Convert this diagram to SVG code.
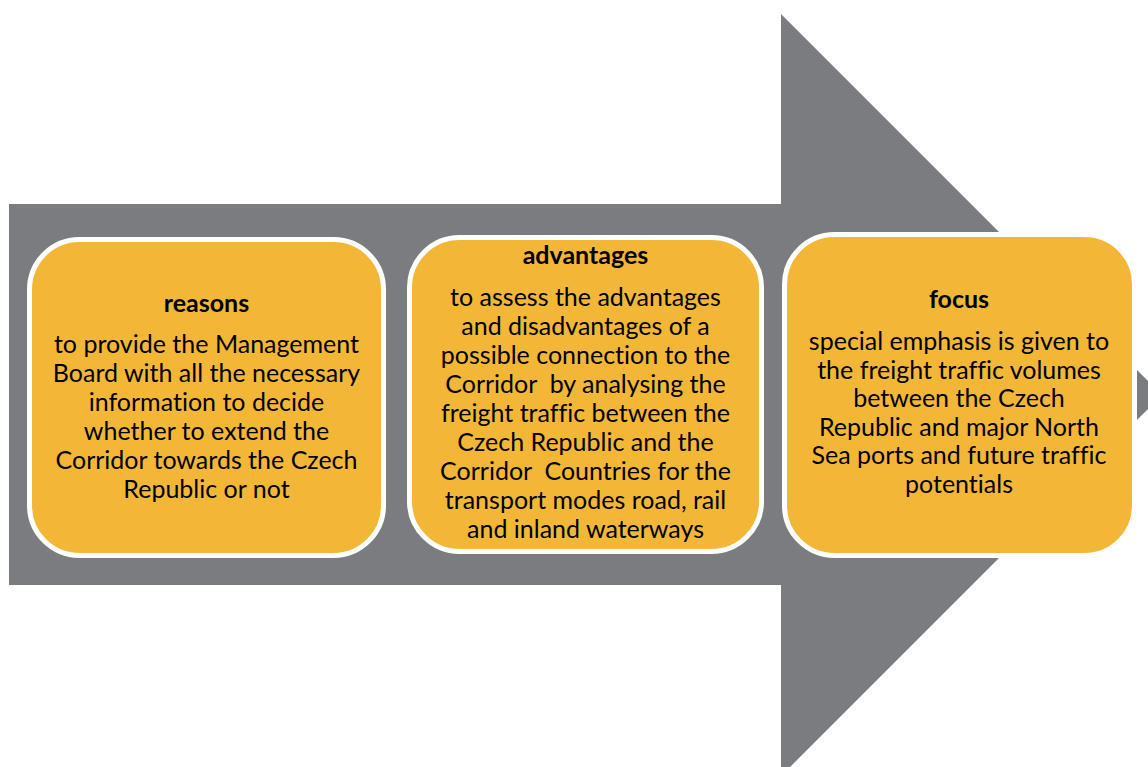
<svg xmlns="http://www.w3.org/2000/svg" width="1148" height="767" viewBox="0 0 1148 767">
<style>
.box{fill:#F3B738;stroke:#FFFFFF;stroke-width:5}
.t{font-family:Lato,"Open Sans","Liberation Sans",sans-serif;font-weight:bold;font-size:25px;fill:#000;text-anchor:middle;font-variant-ligatures:none}
.b{font-family:Lato,"Open Sans","Liberation Sans",sans-serif;font-size:25px;fill:#000;text-anchor:middle;font-variant-ligatures:none}
</style>
<rect width="1148" height="767" fill="#FFFFFF"/>
<g id="connectors">
<polygon id="arrow" points="9,204 781,204 781,14 1162,395 781,776 781,585 9,585" fill="#7B7C80"/>
</g>
<g id="reasons">
<rect class="box" x="29.5" y="239.5" width="354" height="316" rx="50"/>
<text class="t" x="206.5" y="312">reasons</text>
<text class="b" x="206.5" y="353">to provide the Management</text>
<text class="b" x="206.5" y="382">Board with all the necessary</text>
<text class="b" x="206.5" y="411">information to decide</text>
<text class="b" x="206.5" y="440">whether to extend the</text>
<text class="b" x="206.5" y="469">Corridor towards the Czech</text>
<text class="b" x="206.5" y="498">Republic or not</text>
</g>
<g id="advantages">
<rect class="box" x="409.5" y="237.5" width="352" height="314" rx="50"/>
<text class="t" x="585.5" y="264">advantages</text>
<text class="b" x="585.5" y="306">to assess the advantages</text>
<text class="b" x="585.5" y="335">and disadvantages of a</text>
<text class="b" x="585.5" y="364">possible connection to the</text>
<text class="b" x="585.5" y="393" xml:space="preserve">Corridor  by analysing the</text>
<text class="b" x="585.5" y="422">freight traffic between the</text>
<text class="b" x="585.5" y="451">Czech Republic and the</text>
<text class="b" x="585.5" y="480" xml:space="preserve">Corridor  Countries for the</text>
<text class="b" x="585.5" y="509">transport modes road, rail</text>
<text class="b" x="585.5" y="538">and inland waterways</text>
</g>
<g id="focus">
<rect class="box" x="784.5" y="234.5" width="350" height="321" rx="50"/>
<text class="t" x="959" y="308">focus</text>
<text class="b" x="959" y="350">special emphasis is given to</text>
<text class="b" x="959" y="378.6">the freight traffic volumes</text>
<text class="b" x="959" y="407.2">between the Czech</text>
<text class="b" x="959" y="435.8">Republic and major North</text>
<text class="b" x="959" y="464.4">Sea ports and future traffic</text>
<text class="b" x="959" y="493">potentials</text>
</g>
</svg>
